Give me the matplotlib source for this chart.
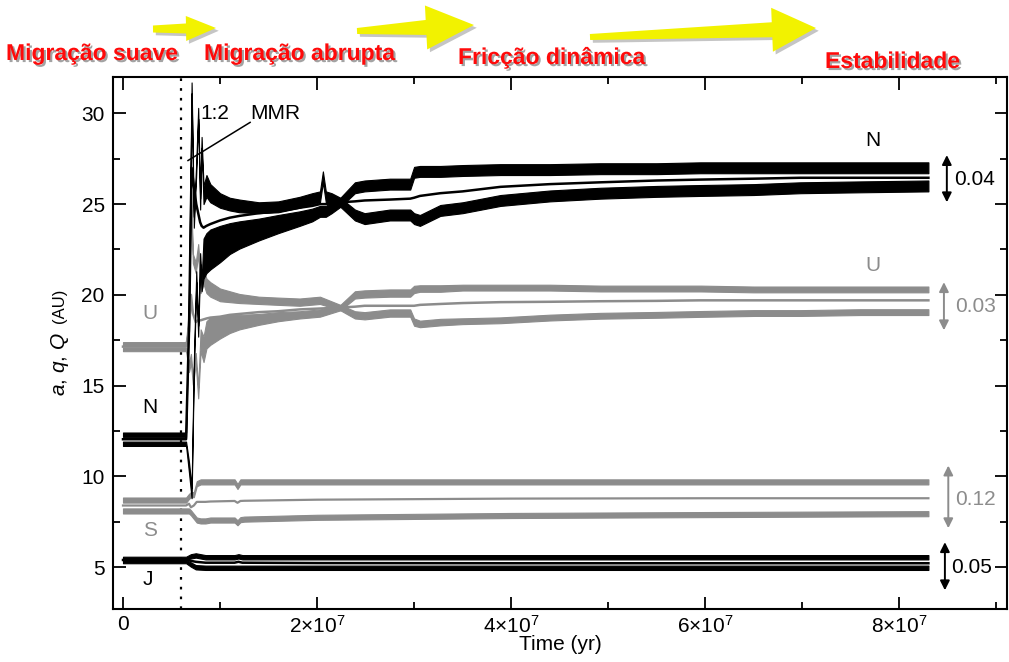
import matplotlib
matplotlib.use("Agg")
import numpy as np
import matplotlib.pyplot as plt
from matplotlib import patheffects as pe
from matplotlib.patches import Polygon
from matplotlib.transforms import Affine2D
from matplotlib.ticker import FixedLocator, FuncFormatter

plt.rcParams.update({
    "font.family": ["Liberation Sans", "DejaVu Sans"],
    "mathtext.fontset": "custom",
    "mathtext.rm": "Liberation Sans",
    "mathtext.it": "Liberation Sans:italic",
    "mathtext.bf": "Liberation Sans:bold",
})

# ---------------------------------------------------------------------------
# Orbital elements (AU) versus time (Myr): perihelion q, semi-major axis a,
# aphelion Q, plus the half-width of the short-period oscillation band.
# ---------------------------------------------------------------------------
t_N = [0, 6.5, 6.8, 7.07, 7.3, 7.55, 7.75, 7.95, 8.1, 8.3,
       8.6, 9.0, 10, 11, 12, 14, 16, 18.2, 19.5, 20.3,
       20.6, 20.9, 21.5, 22.4, 23.9, 24.9, 27.5, 29.6, 30.0, 30.6,
       32.7, 35, 38.9, 44, 49.2, 55, 59.5, 65, 69.8, 76, 83]
N_Q = [12.3, 12.3, 20.0, 31.4, 24.0, 27.0, 30.0, 25.0, 28.4, 25.5,
       26.0, 25.6, 25.2, 25.0, 24.9, 24.8, 24.85, 25.1, 25.3, 25.4,
       26.5, 25.4, 25.3, 25.1, 25.9, 26.0, 26.1, 26.1, 26.75, 26.8,
       26.8, 26.85, 26.9, 26.9, 26.95, 26.95, 27.0, 27.0, 27.0, 27.0, 27.0]
N_a = [12.05, 12.05, 18.0, 27.0, 26.0, 25.0, 24.5, 24.0, 23.8, 23.7,
       23.8, 23.9, 24.1, 24.25, 24.35, 24.5, 24.6, 24.8, 24.9, 25.0,
       25.0, 25.0, 25.05, 25.1, 25.15, 25.2, 25.25, 25.3, 25.35, 25.45,
       25.6, 25.7, 25.95, 26.1, 26.2, 26.3, 26.35, 26.4, 26.45, 26.45, 26.45]
N_q = [11.8, 11.8, 10.5, 9.1, 16.0, 21.0, 18.0, 22.0, 20.5, 22.0,
       22.3, 22.5, 22.8, 23.1, 23.3, 23.6, 23.9, 24.2, 24.4, 24.6,
       24.6, 24.6, 24.8, 25.1, 24.4, 24.2, 24.4, 24.4, 24.2, 24.1,
       24.65, 24.8, 25.2, 25.45, 25.6, 25.7, 25.75, 25.8, 25.9, 25.95, 26.0]
N_Q_amp = [0.12, 0.12, 0.3, 0.3, 0.3, 0.3, 0.3, 0.3, 0.3, 0.5,
           0.6, 0.5, 0.4, 0.35, 0.35, 0.3, 0.3, 0.3, 0.3, 0.3,
           0.3, 0.3, 0.3, 0.25, 0.3, 0.3, 0.3, 0.3, 0.3, 0.3,
           0.3, 0.3, 0.3, 0.3, 0.3, 0.3, 0.3, 0.3, 0.3, 0.3, 0.3]
N_q_amp = [0.12, 0.12, 0.3, 0.3, 0.3, 0.3, 0.3, 0.3, 0.3, 1.1,
           1.1, 1.1, 1.0, 0.85, 0.75, 0.6, 0.5, 0.4, 0.35, 0.3,
           0.3, 0.3, 0.3, 0.25, 0.3, 0.3, 0.3, 0.3, 0.3, 0.3,
           0.3, 0.3, 0.3, 0.3, 0.3, 0.3, 0.3, 0.3, 0.3, 0.3, 0.3]

t_U = [0, 6.5, 6.8, 7.0, 7.2, 7.5, 7.75, 8.0, 8.3, 8.6,
       9.0, 10, 11, 12, 14, 16, 18.2, 20.3, 22.4, 23.9,
       24.9, 27.5, 29.6, 30.0, 30.6, 32.7, 35, 38.9, 44, 49.2,
       55, 59.5, 65, 69.8, 76, 83]
U_Q = [17.3, 17.3, 19.0, 25.6, 22.0, 21.5, 22.5, 20.5, 21.0, 20.5,
       20.3, 20.0, 19.9, 19.8, 19.7, 19.65, 19.6, 19.7, 19.3, 20.0,
       20.05, 20.1, 20.1, 20.3, 20.35, 20.35, 20.4, 20.4, 20.4, 20.35,
       20.35, 20.35, 20.3, 20.3, 20.3, 20.3]
U_a = [17.15, 17.15, 18.0, 20.0, 19.0, 18.5, 18.6, 18.6, 18.65, 18.7,
       18.75, 18.8, 18.9, 18.95, 19.05, 19.1, 19.2, 19.25, 19.3, 19.35,
       19.4, 19.4, 19.4, 19.4, 19.45, 19.5, 19.55, 19.6, 19.62, 19.65,
       19.67, 19.7, 19.7, 19.7, 19.7, 19.7]
U_q = [17.0, 17.0, 16.0, 16.5, 15.3, 16.5, 14.6, 17.5, 17.0, 17.8,
       18.0, 18.2, 18.4, 18.5, 18.65, 18.8, 18.9, 19.0, 19.3, 18.9,
       18.85, 19.0, 19.0, 18.5, 18.4, 18.5, 18.55, 18.6, 18.75, 18.85,
       18.9, 18.95, 19.0, 19.0, 19.05, 19.05]
U_Q_amp = [0.1, 0.1, 0.25, 0.25, 0.25, 0.3, 0.3, 0.4, 0.4, 0.4,
           0.4, 0.35, 0.3, 0.25, 0.2, 0.2, 0.2, 0.2, 0.15, 0.2,
           0.2, 0.2, 0.2, 0.2, 0.18, 0.18, 0.16, 0.16, 0.16, 0.16,
           0.16, 0.16, 0.16, 0.16, 0.16, 0.16]
U_q_amp = [0.1, 0.1, 0.25, 0.25, 0.25, 0.3, 0.3, 0.6, 0.7, 0.75,
           0.75, 0.6, 0.5, 0.4, 0.3, 0.25, 0.2, 0.2, 0.15, 0.2,
           0.2, 0.2, 0.2, 0.2, 0.18, 0.18, 0.16, 0.16, 0.16, 0.16,
           0.16, 0.16, 0.16, 0.16, 0.16, 0.16]

t_S = [0, 6.5, 6.8, 7.0, 7.3, 7.6, 8.0, 8.5, 9.0, 11.5,
       11.8, 12.1, 12.5, 20, 40, 60, 83]
S_Q = [8.7, 8.7, 8.9, 9.0, 9.0, 9.6, 9.7, 9.7, 9.7, 9.7,
       9.45, 9.7, 9.7, 9.7, 9.7, 9.7, 9.7]
S_a = [8.4, 8.4, 8.5, 8.3, 8.4, 8.6, 8.6, 8.6, 8.62, 8.65,
       8.55, 8.65, 8.66, 8.72, 8.78, 8.8, 8.8]
S_q = [8.1, 8.1, 8.1, 8.0, 7.8, 7.6, 7.55, 7.55, 7.6, 7.6,
       7.45, 7.62, 7.65, 7.75, 7.85, 7.9, 7.95]
S_amp = [0.14, 0.14, 0.14, 0.14, 0.14, 0.14, 0.14, 0.14, 0.14, 0.14,
         0.14, 0.14, 0.14, 0.14, 0.14, 0.14, 0.14]

t_J = [0, 6.5, 7.0, 7.5, 8.5, 11.5, 11.9, 12.3, 20, 40, 83]
J_Q = [5.5, 5.5, 5.6, 5.65, 5.55, 5.55, 5.6, 5.55, 5.55, 5.55, 5.55]
J_a = [5.4, 5.4, 5.35, 5.3, 5.25, 5.25, 5.3, 5.25, 5.23, 5.22, 5.22]
J_q = [5.3, 5.3, 5.15, 5.0, 4.97, 4.97, 4.97, 4.97, 4.97, 4.97, 4.97]
J_amp = [0.08, 0.08, 0.12, 0.12, 0.12, 0.12, 0.12, 0.12, 0.12, 0.12, 0.12]

# eccentricity brackets at the end of the run
ecc_labels = ["0.04", "0.03", "0.12", "0.05"]

# phase headings along the top
phase_labels = ["Migração suave", "Migração abrupta", "Fricção dinâmica", "Estabilidade"]

t_instability = 6.0  # Myr, dotted marker
x_ticks = [0, 2e7, 4e7, 6e7, 8e7]
y_ticks = [5, 10, 15, 20, 25, 30]

BLACK = "#000000"
GRAY = "#8c8c8c"
RED = "#ff0a0a"
YELLOW = "#f2f200"

W, H = 1009, 662
fig = plt.figure(figsize=(W / 100, H / 100), dpi=100)
ax = fig.add_axes([113 / W, (H - 609) / H, (1007 - 113) / W, (609 - 77) / H])
px = Affine2D().scale(1 / W, -1 / H).translate(0, 1) + fig.transFigure


def myr(t):
    return np.asarray(t, dtype=float) * 1e6


def band(t, v, amp, color, z):
    v = np.asarray(v, float)
    amp = np.asarray(amp, float)
    ax.fill_between(myr(t), v - amp, v + amp, facecolor=color,
                    edgecolor=color, lw=0.8, zorder=z)


def planet(t, q, a, Q, amp_q, amp_Q, color, z, a_lw=1.8):
    band(t, q, amp_q, color, z)
    band(t, Q, amp_Q, color, z)
    ax.plot(myr(t), a, color=color, lw=a_lw, zorder=z + 0.1,
            solid_joinstyle="round")


planet(t_S, S_q, S_a, S_Q, S_amp, S_amp, GRAY, 2, a_lw=1.6)
planet(t_J, J_q, J_a, J_Q, J_amp, J_amp, BLACK, 2, a_lw=1.8)
planet(t_U, U_q, U_a, U_Q, U_q_amp, U_Q_amp, GRAY, 3)
planet(t_N, N_q, N_a, N_Q, N_q_amp, N_Q_amp, BLACK, 4)

ax.axvline(myr(t_instability), color=BLACK, lw=1.6, ls=(0, (1.2, 3.2)), zorder=1)

ax.set_xlim(-1.03e6, 9.11e7)
ax.set_ylim(2.7, 32.0)

ax.xaxis.set_major_locator(FixedLocator(x_ticks))
ax.xaxis.set_minor_locator(FixedLocator([1e7, 3e7, 5e7, 7e7, 9e7]))
ax.yaxis.set_major_locator(FixedLocator(y_ticks))
ax.yaxis.set_minor_locator(FixedLocator([7.5, 12.5, 17.5, 22.5, 27.5]))


def sci(x, _pos):
    if x == 0:
        return "0"
    m = int(round(x / 1e7))
    return r"$%d{\times}10^{7}$" % m


ax.xaxis.set_major_formatter(FuncFormatter(sci))
ax.tick_params(which="both", direction="in", top=True, right=True,
               labelsize=15, width=1.3, color=BLACK)
ax.tick_params(which="major", length=9)
ax.tick_params(which="minor", length=5)
ax.tick_params(axis="y", which="major", pad=6)
ax.tick_params(axis="x", which="major", pad=4)
for s in ax.spines.values():
    s.set_linewidth(1.5)

# planet names
ax.text(myr(2.8), 19.0, "U", color=GRAY, fontsize=15, ha="center", va="center")
ax.text(myr(2.8), 13.8, "N", color=BLACK, fontsize=15, ha="center", va="center")
ax.text(myr(2.8), 7.0, "S", color=GRAY, fontsize=15, ha="center", va="center")
ax.text(myr(2.6), 4.3, "J", color=BLACK, fontsize=15, ha="center", va="center")
ax.text(myr(77.3), 28.5, "N", color=BLACK, fontsize=15, ha="center", va="center")
ax.text(myr(77.3), 21.6, "U", color=GRAY, fontsize=15, ha="center", va="center")

# resonance crossing annotation
ax.text(myr(8.0), 30.0, "1:2", fontsize=15, ha="left", va="center")
ax.text(myr(13.1), 30.0, "MMR", fontsize=15, ha="left", va="center")
ax.plot(myr([6.7, 13.1]), [27.4, 29.5], color=BLACK, lw=1.1, zorder=6)

# eccentricity brackets
brackets = [
    (84.9, 27.7, 25.1, 85.6, 26.35, BLACK),
    (84.6, 20.7, 18.05, 85.8, 19.35, GRAY),
    (85.05, 10.6, 7.15, 85.8, 8.75, GRAY),
    (84.7, 6.38, 3.73, 85.3, 5.0, BLACK),
]
for (xa, y0, y1, xt, yt, c), lab in zip(brackets, ecc_labels):
    ax.annotate("", xy=(myr(xa), y1), xytext=(myr(xa), y0),
                arrowprops=dict(arrowstyle="<|-|>", color=c, lw=1.4,
                                mutation_scale=14, shrinkA=0, shrinkB=0),
                annotation_clip=False)
    ax.text(myr(xt), yt, lab, color=c, fontsize=15, ha="left", va="center")

# axis titles
fig.text(60, 364, r"$a$, $q$, $Q$", transform=px, rotation=90,
         fontsize=15, ha="center", va="center")
fig.text(60, 306, "(AU)", transform=px, rotation=90,
         fontsize=12, ha="center", va="center")
fig.text(560, 645, "Time (yr)", transform=px, fontsize=15,
         ha="center", va="center")


# yellow progression arrows
def arrow_poly(x0, y0, x1, y1, w0, w1, hw, hl):
    p0 = np.array([x0, y0], float)
    p1 = np.array([x1, y1], float)
    u = (p1 - p0) / np.hypot(*(p1 - p0))
    n = np.array([-u[1], u[0]])
    base = p1 - u * hl
    return [p0 + n * w0 / 2, base + n * w1 / 2, base + n * hw / 2, p1,
            base - n * hw / 2, base - n * w1 / 2, p0 - n * w0 / 2]


shadow = [pe.withSimplePatchShadow(offset=(2, -2), shadow_rgbFace="0.35", alpha=0.35)]
for geom in [(153, 29, 216, 28, 7, 10, 25, 30),
             (357, 31, 474, 25, 6, 15, 44, 48),
             (590, 37, 816, 28, 6, 15, 44, 44)]:
    poly = Polygon(arrow_poly(*geom), closed=True, transform=px,
                   facecolor=YELLOW, edgecolor="none", path_effects=shadow)
    fig.add_artist(poly)

# phase headings
text_shadow = [pe.withSimplePatchShadow(offset=(1.5, -1.5), shadow_rgbFace="0.2", alpha=0.45)]
for (x, y), lab in zip([(6, 60), (204, 60), (458, 64), (825, 68)], phase_labels):
    fig.text(x, y, lab, transform=px, color=RED, fontsize=16.5,
             fontweight="bold", ha="left", va="baseline", path_effects=text_shadow)

fig.savefig("out.png", dpi=100)
